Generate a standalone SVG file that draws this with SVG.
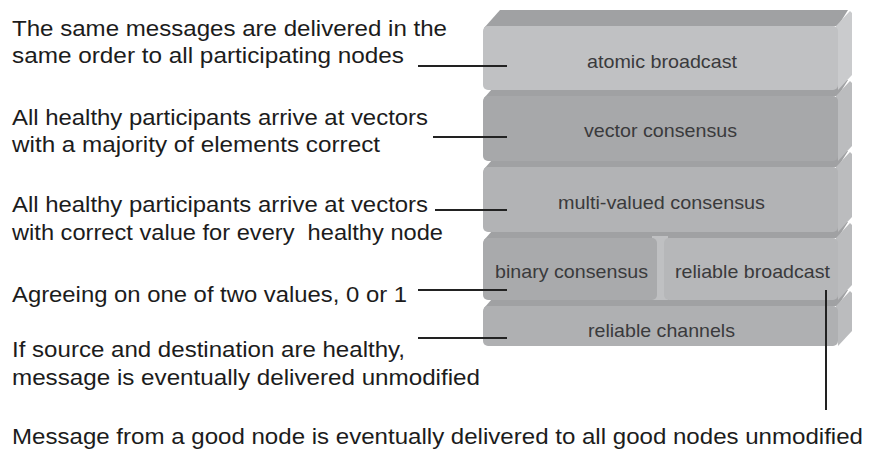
<svg xmlns="http://www.w3.org/2000/svg" width="870" height="451" viewBox="0 0 870 451">
<style>
.desc{font-family:"Liberation Sans",Arial,sans-serif;font-size:22px;fill:#1c1c1c}
.lbl{font-family:"Liberation Sans",Arial,sans-serif;font-size:19px;fill:#3a3a3c}
.top{fill:#a0a1a3}
.side{fill:#bbbcbe}
.conn{stroke:#222;stroke-width:2;fill:none}
</style>
<rect width="870" height="451" fill="#fff"/>
<g id="reliable-channels">
<polygon class="top" points="484,308 500,290 848,290 838,306"/>
<polygon class="side" points="836,306 850,291 852,293 852,331 838,346"/>
<rect x="483" y="306" width="355" height="40" rx="5" fill="#afb0b2"/>
<text class="lbl" x="588" y="337" textLength="147" lengthAdjust="spacingAndGlyphs">reliable channels</text>
</g>
<g id="row-binary-reliable">
<polygon class="top" points="484,240 500,222 848,222 838,238"/>
<polygon class="side" points="836,238 850,223 852,225 852,285 838,300"/>
<rect x="652" y="236" width="16" height="64" fill="#bfc0c2"/>
</g>
<g id="binary-consensus">
<rect x="483" y="238" width="174" height="62" rx="5" fill="#a9aaac"/>
<text class="lbl" x="495" y="278" textLength="153" lengthAdjust="spacingAndGlyphs">binary consensus</text>
</g>
<g id="reliable-broadcast">
<rect x="664" y="238" width="174" height="62" rx="5" fill="#b6b7b9"/>
<text class="lbl" x="675" y="278" textLength="155" lengthAdjust="spacingAndGlyphs">reliable broadcast</text>
</g>
<g id="multi-valued-consensus">
<polygon class="top" points="484,169 500,151 848,151 838,167"/>
<polygon class="side" points="836,167 850,152 852,154 852,217 838,232"/>
<rect x="483" y="167" width="355" height="65" rx="5" fill="#b2b3b5"/>
<text class="lbl" x="558" y="209" textLength="207" lengthAdjust="spacingAndGlyphs">multi-valued consensus</text>
</g>
<g id="vector-consensus">
<polygon class="top" points="484,98 500,80 848,80 838,96"/>
<polygon class="side" points="836,96 850,81 852,83 852,146 838,161"/>
<rect x="483" y="96" width="355" height="65" rx="5" fill="#a7a8aa"/>
<text class="lbl" x="584" y="137" textLength="153" lengthAdjust="spacingAndGlyphs">vector consensus</text>
</g>
<g id="atomic-broadcast">
<polygon class="top" points="484,28 500,10 848,10 838,26"/>
<polygon points="836,26 850,11 852,13 852,75 838,90" fill="#cacbcd"/>
<rect x="483" y="26" width="355" height="64" rx="5" fill="#c0c1c3"/>
<text class="lbl" x="587" y="68" textLength="150" lengthAdjust="spacingAndGlyphs">atomic broadcast</text>
</g>
<g id="connectors">
<line class="conn" x1="418" y1="66" x2="507" y2="66"/>
<line class="conn" x1="433" y1="137" x2="507" y2="137"/>
<line class="conn" x1="435" y1="210" x2="507" y2="210"/>
<line class="conn" x1="418" y1="290" x2="507" y2="290"/>
<line class="conn" x1="418" y1="338" x2="507" y2="338"/>
<line class="conn" x1="826" y1="290" x2="826" y2="410"/>
</g>
<g id="descriptions">
<text class="desc" x="12" y="36" textLength="435" lengthAdjust="spacingAndGlyphs">The same messages are delivered in the</text>
<text class="desc" x="12" y="63" textLength="392" lengthAdjust="spacingAndGlyphs">same order to all participating nodes</text>
<text class="desc" x="12" y="125" textLength="416" lengthAdjust="spacingAndGlyphs">All healthy participants arrive at vectors</text>
<text class="desc" x="12" y="152" textLength="368" lengthAdjust="spacingAndGlyphs">with a majority of elements correct</text>
<text class="desc" x="12" y="212" textLength="416" lengthAdjust="spacingAndGlyphs">All healthy participants arrive at vectors</text>
<text class="desc" x="12" y="240" textLength="431" lengthAdjust="spacingAndGlyphs" xml:space="preserve">with correct value for every  healthy node</text>
<text class="desc" x="12" y="302" textLength="395" lengthAdjust="spacingAndGlyphs">Agreeing on one of two values, 0 or 1</text>
<text class="desc" x="12" y="357" textLength="393" lengthAdjust="spacingAndGlyphs">If source and destination are healthy,</text>
<text class="desc" x="12" y="385" textLength="468" lengthAdjust="spacingAndGlyphs">message is eventually delivered unmodified</text>
<text class="desc" x="12" y="444" textLength="851" lengthAdjust="spacingAndGlyphs">Message from a good node is eventually delivered to all good nodes unmodified</text>
</g>
</svg>
